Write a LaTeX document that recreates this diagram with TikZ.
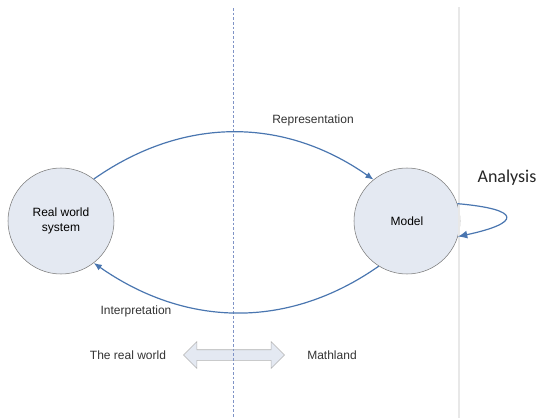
\documentclass[tikz,border=0pt]{standalone}
\usepackage{fontspec}
\setmainfont{Liberation Sans}
\newfontfamily\calibri{Carlito}
\usepackage{tikz}
\usetikzlibrary{arrows.meta,shapes.arrows}

\definecolor{arcblue}{HTML}{4A76B0}
\definecolor{discfill}{HTML}{E4E9F2}
\definecolor{discline}{HTML}{7A7A7A}
\definecolor{splitline}{HTML}{7F93C6}

\tikzset{
  disc/.style={circle,draw=discline,fill=discfill,minimum size=79.5pt,inner sep=0pt,align=center,font=\fontsize{9}{11}\selectfont},
  lbl/.style={font=\fontsize{9}{11}\selectfont,text=black!80},
  flow/.style={draw=arcblue,line width=0.9pt,-{Latex[length=6pt,width=5pt]}}
}

\begin{document}
\begin{tikzpicture}[x=0.75pt,y=-0.75pt]
      \useasboundingbox (0,0) rectangle (537,418);

      \node [disc] (1) at (61,221) {Real world\\system};
      \node [disc] (2) at (407,221) {Model};

      \node [lbl] (3) at (313,120) {Representation};
      \node [lbl] (4) at (136,311) {Interpretation};
      \node [font=\calibri\fontsize{13.5}{15}\selectfont,text=black!85] (5) at (507,178) {Analysis};

      \node [double arrow,draw=gray!60,fill=discfill,minimum height=75.75pt,inner sep=3.75pt,double arrow head extend=6pt] (6) at (234,355) {};
      \node [lbl] (7) at (128,355) {The real world};
      \node [lbl] (8) at (332,355) {Mathland};

      \draw[splitline,line width=0.6pt,dash pattern=on 2pt off 1.5pt] (233,8) -- (233,418);
      \draw[gray!18,line width=0.8pt] (459,7) -- (459,418);

      \draw[flow] (1.52) to[out=35,in=145] (2.129);
      \draw[flow] (2.238) to[out=-145,in=-35] (1.-52);
      \draw[flow,-{Latex[length=7pt,width=6pt]}] (2.19) .. controls +(5:66) and +(-12:64) .. (2.-17);
    \end{tikzpicture}
\end{document}
